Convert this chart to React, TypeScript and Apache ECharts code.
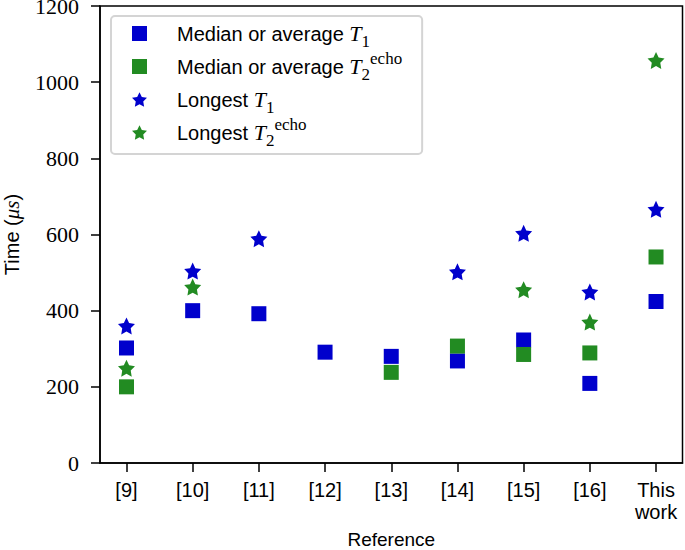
import React, { useEffect, useRef } from "react";
import * as echarts from "echarts";

// ---- data ----
const categories = ["[9]", "[10]", "[11]", "[12]", "[13]", "[14]", "[15]", "[16]", "This\nwork"];
const medianT1 = [302, 400, 392, 291, 280, 268, 323, 209, 424];
const medianT2echo = [200, null, null, null, 238, 307, 285, 289, 541];
const longestT1 = [360, 504, 589, null, null, 502, 603, 449, 666];
const longestT2echo = [249, 462, null, null, null, null, 455, 370, 1057];
const yTicks = [0, 200, 400, 600, 800, 1000, 1200];

const seriesNames = [
  "Median or average T1",
  "Median or average T2echo",
  "Longest T1",
  "Longest T2echo",
];
const legendRich: Record<string, string> = {
  "Median or average T1": "Median or average {t|T}{sub|1}",
  "Median or average T2echo": "Median or average {t|T}{sub|2}{sup|echo}",
  "Longest T1": "Longest {t|T}{sub|1}",
  "Longest T2echo": "Longest {t|T}{sub|2}{sup|echo}",
};

const BLUE = "#0000CC";
const GREEN = "#228B22";
const STAR =
  "path://M10 0 L12.939 5.955 L19.511 6.910 L14.755 11.545 L15.878 18.090 L10 15 L4.122 18.090 L5.245 11.545 L0.489 6.910 L7.061 5.955 Z";

const toPoints = (vals: (number | null)[]) =>
  vals.map((v, i) => (v == null ? null : [i, v])).filter((p) => p !== null);

export default function App() {
  const ref = useRef<HTMLDivElement>(null);
  useEffect(() => {
    document.body.style.margin = "0";
    if (!ref.current) return;
    const chart = echarts.init(ref.current, undefined, { renderer: "svg" });
    const sans = "Liberation Sans";
    const serif = "Liberation Serif";
    const catIdx = categories.map((_, i) => i);
    chart.setOption({
      animation: false,
      backgroundColor: "#ffffff",
      grid: {
        left: 100,
        right: 2.5,
        top: 6,
        bottom: 87,
        outerBoundsMode: "none",
        containLabel: false,
        show: true,
        borderColor: "#000",
        borderWidth: 1.5,
        backgroundColor: "transparent",
      },
      legend: {
        orient: "vertical",
        left: 111,
        top: 16,
        padding: [1, 20, 5, 21],
        itemGap: 0,
        itemWidth: 15,
        itemHeight: 15,
        backgroundColor: "#fff",
        borderColor: "#d4d4d4",
        borderWidth: 2,
        borderRadius: 4,
        data: [
          { name: seriesNames[0], icon: "rect" },
          { name: seriesNames[1], icon: "rect" },
          { name: seriesNames[2], icon: STAR },
          { name: seriesNames[3], icon: STAR },
        ],
        formatter: (name: string) => legendRich[name] || name,
        textStyle: {
          fontFamily: sans,
          fontSize: 20,
          color: "#000",
          lineHeight: 33,
          padding: [0, 0, 0, 25],
          rich: {
            t: { fontFamily: serif, fontStyle: "italic", fontSize: 22, lineHeight: 33, color: "#000" },
            sub: { fontFamily: serif, fontSize: 17, lineHeight: 8, verticalAlign: "bottom", color: "#000" },
            sup: { fontFamily: serif, fontSize: 17, lineHeight: 24, verticalAlign: "top", color: "#000" },
          },
        },
      },
      xAxis: {
        type: "value",
        min: -0.4,
        max: 8.4,
        name: "Reference",
        nameLocation: "middle",
        nameGap: 69,
        nameTextStyle: { fontFamily: sans, fontSize: 19, lineHeight: 14, color: "#000" },
        axisLine: { show: true, onZero: false, lineStyle: { color: "#000", width: 1.5 } },
        axisTick: { show: true, length: 9, lineStyle: { color: "#000", width: 1.5 }, customValues: catIdx },
        axisLabel: {
          customValues: catIdx,
          formatter: (v: number) => categories[Math.round(v)] ?? "",
          fontFamily: sans,
          fontSize: 20,
          lineHeight: 22,
          color: "#000",
          margin: 16,
        },
        splitLine: { show: false },
      },
      yAxis: {
        type: "value",
        min: yTicks[0],
        max: yTicks[yTicks.length - 1],
        interval: 200,
        name: "Time ({m|μs})",
        nameLocation: "middle",
        nameGap: 78,
        nameTextStyle: {
          fontFamily: sans,
          fontSize: 20,
          lineHeight: 20,
          color: "#000",
          rich: { m: { fontFamily: serif, fontStyle: "italic", fontSize: 21, lineHeight: 20, color: "#000" } },
        },
        axisLine: { show: true, onZero: false, lineStyle: { color: "#000", width: 1.5 } },
        axisTick: { show: true, length: 9, lineStyle: { color: "#000", width: 1.5 } },
        axisLabel: {
          fontFamily: serif,
          fontSize: 22,
          lineHeight: 12,
          padding: [4, 0, 0, 0],
          color: "#000",
          margin: 21,
          formatter: (v: number) => String(v),
        },
        splitLine: { show: false },
      },
      series: [
        { name: seriesNames[0], type: "scatter", symbol: "rect", symbolSize: 15, itemStyle: { color: BLUE, opacity: 1 }, data: toPoints(medianT1) },
        { name: seriesNames[1], type: "scatter", symbol: "rect", symbolSize: 15, itemStyle: { color: GREEN, opacity: 1 }, data: toPoints(medianT2echo) },
        { name: seriesNames[2], type: "scatter", symbol: STAR, symbolSize: 17, itemStyle: { color: BLUE, opacity: 1 }, data: toPoints(longestT1) },
        { name: seriesNames[3], type: "scatter", symbol: STAR, symbolSize: 17, itemStyle: { color: GREEN, opacity: 1 }, data: toPoints(longestT2echo) },
      ],
    });
    return () => chart.dispose();
  }, []);
  return <div ref={ref} style={{ width: 685, height: 550 }} />;
}
